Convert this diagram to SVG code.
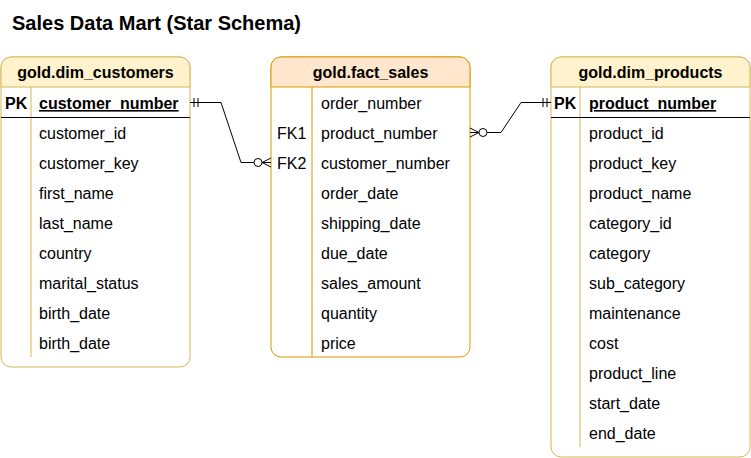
<svg xmlns="http://www.w3.org/2000/svg" width="751" height="458" viewBox="0 0 751 458">
<style>
text{font-family:"Liberation Sans",Arial,sans-serif;font-size:16px;fill:#000}
.title{font-size:20px;font-weight:bold}
.hd{font-weight:bold;text-anchor:middle}
.b{font-weight:bold}
.u{text-decoration:underline}
.dimbox{fill:#fff;stroke:#d6b656;stroke-width:1}
.dimhead{fill:#fff2cc;stroke:#d6b656;stroke-width:1}
.factbox{fill:#fff;stroke:#d79b00;stroke-width:1}
.facthead{fill:#ffe6cc;stroke:#d79b00;stroke-width:1}
.dimdiv{stroke:#d6b656;stroke-width:1}
.factdiv{stroke:#d79b00;stroke-width:1}
.pkline{stroke:#000;stroke-width:1}
.conn{fill:none;stroke:#000;stroke-width:1}
.mk{fill:none;stroke:#000;stroke-width:1}
</style>
<defs>
<marker id="oneEnd" markerUnits="userSpaceOnUse" viewBox="-12 -6 14 12" refX="0" refY="0" markerWidth="14" markerHeight="12" orient="auto" overflow="visible">
<path class="mk" d="M-4,-4.5V4.5M-8,-4.5V4.5"/>
</marker>
<marker id="oneStart" markerUnits="userSpaceOnUse" viewBox="-2 -6 14 12" refX="0" refY="0" markerWidth="14" markerHeight="12" orient="auto" overflow="visible">
<path class="mk" d="M4,-4.5V4.5M8,-4.5V4.5"/>
</marker>
<marker id="manyEnd" markerUnits="userSpaceOnUse" viewBox="-20 -6 22 12" refX="0" refY="0" markerWidth="22" markerHeight="12" orient="auto" overflow="visible">
<path class="mk" d="M0,-4.5L-9,0L0,4.5M-9,0H0"/>
<circle cx="-13" cy="0" r="4" fill="#fff" stroke="#000" stroke-width="1"/>
</marker>
<marker id="manyStart" markerUnits="userSpaceOnUse" viewBox="-2 -6 22 12" refX="0" refY="0" markerWidth="22" markerHeight="12" orient="auto" overflow="visible">
<path class="mk" d="M0,-4.5L9,0L0,4.5M9,0H0"/>
<circle cx="13" cy="0" r="4" fill="#fff" stroke="#000" stroke-width="1"/>
</marker>
</defs>
<rect width="751" height="458" fill="#fff"/>
<text class="title" x="12" y="30">Sales Data Mart (Star Schema)</text>

<g id="dim_customers">
<rect class="dimbox" x="1" y="57" width="189" height="310" rx="10"/>
<path class="dimhead" d="M1,87V67A10,10 0 0 1 11,57H180A10,10 0 0 1 190,67V87Z"/>
<text class="hd" x="95.5" y="78">gold.dim_customers</text>
<line class="dimdiv" x1="31" y1="87" x2="31" y2="357"/>
<line class="pkline" x1="1" y1="117.5" x2="190" y2="117.5"/>
<text class="b" x="5" y="109">PK</text>
<text class="b u" x="39" y="109">customer_number</text>
<text x="39" y="139">customer_id</text>
<text x="39" y="169">customer_key</text>
<text x="39" y="199">first_name</text>
<text x="39" y="229">last_name</text>
<text x="39" y="259">country</text>
<text x="39" y="289">marital_status</text>
<text x="39" y="319">birth_date</text>
<text x="39" y="349">birth_date</text>
</g>

<g id="fact_sales">
<rect class="factbox" x="271" y="57" width="199" height="300" rx="10"/>
<path class="facthead" d="M271,87V67A10,10 0 0 1 281,57H460A10,10 0 0 1 470,67V87Z"/>
<text class="hd" x="370.5" y="78">gold.fact_sales</text>
<line class="factdiv" x1="312" y1="87" x2="312" y2="357"/>
<text x="321" y="109">order_number</text>
<text x="277" y="139">FK1</text>
<text x="321" y="139">product_number</text>
<text x="277" y="169">FK2</text>
<text x="321" y="169">customer_number</text>
<text x="321" y="199">order_date</text>
<text x="321" y="229">shipping_date</text>
<text x="321" y="259">due_date</text>
<text x="321" y="289">sales_amount</text>
<text x="321" y="319">quantity</text>
<text x="321" y="349">price</text>
</g>

<g id="dim_products">
<rect class="dimbox" x="551" y="57" width="199" height="400" rx="10"/>
<path class="dimhead" d="M551,87V67A10,10 0 0 1 561,57H740A10,10 0 0 1 750,67V87Z"/>
<text class="hd" x="650.5" y="78">gold.dim_products</text>
<line class="dimdiv" x1="580" y1="87" x2="580" y2="447"/>
<line class="pkline" x1="551" y1="117.5" x2="750" y2="117.5"/>
<text class="b" x="554" y="109">PK</text>
<text class="b u" x="589" y="109">product_number</text>
<text x="589" y="139">product_id</text>
<text x="589" y="169">product_key</text>
<text x="589" y="199">product_name</text>
<text x="589" y="229">category_id</text>
<text x="589" y="259">category</text>
<text x="589" y="289">sub_category</text>
<text x="589" y="319">maintenance</text>
<text x="589" y="349">cost</text>
<text x="589" y="379">product_line</text>
<text x="589" y="409">start_date</text>
<text x="589" y="439">end_date</text>
</g>

<g id="connectors">
<path class="conn" d="M190,102.5H221L241,162.5H271" marker-start="url(#oneStart)" marker-end="url(#manyEnd)"/>
<path class="conn" d="M470,132.5H501L521,102.5H551" marker-start="url(#manyStart)" marker-end="url(#oneEnd)"/>
</g>
</svg>
